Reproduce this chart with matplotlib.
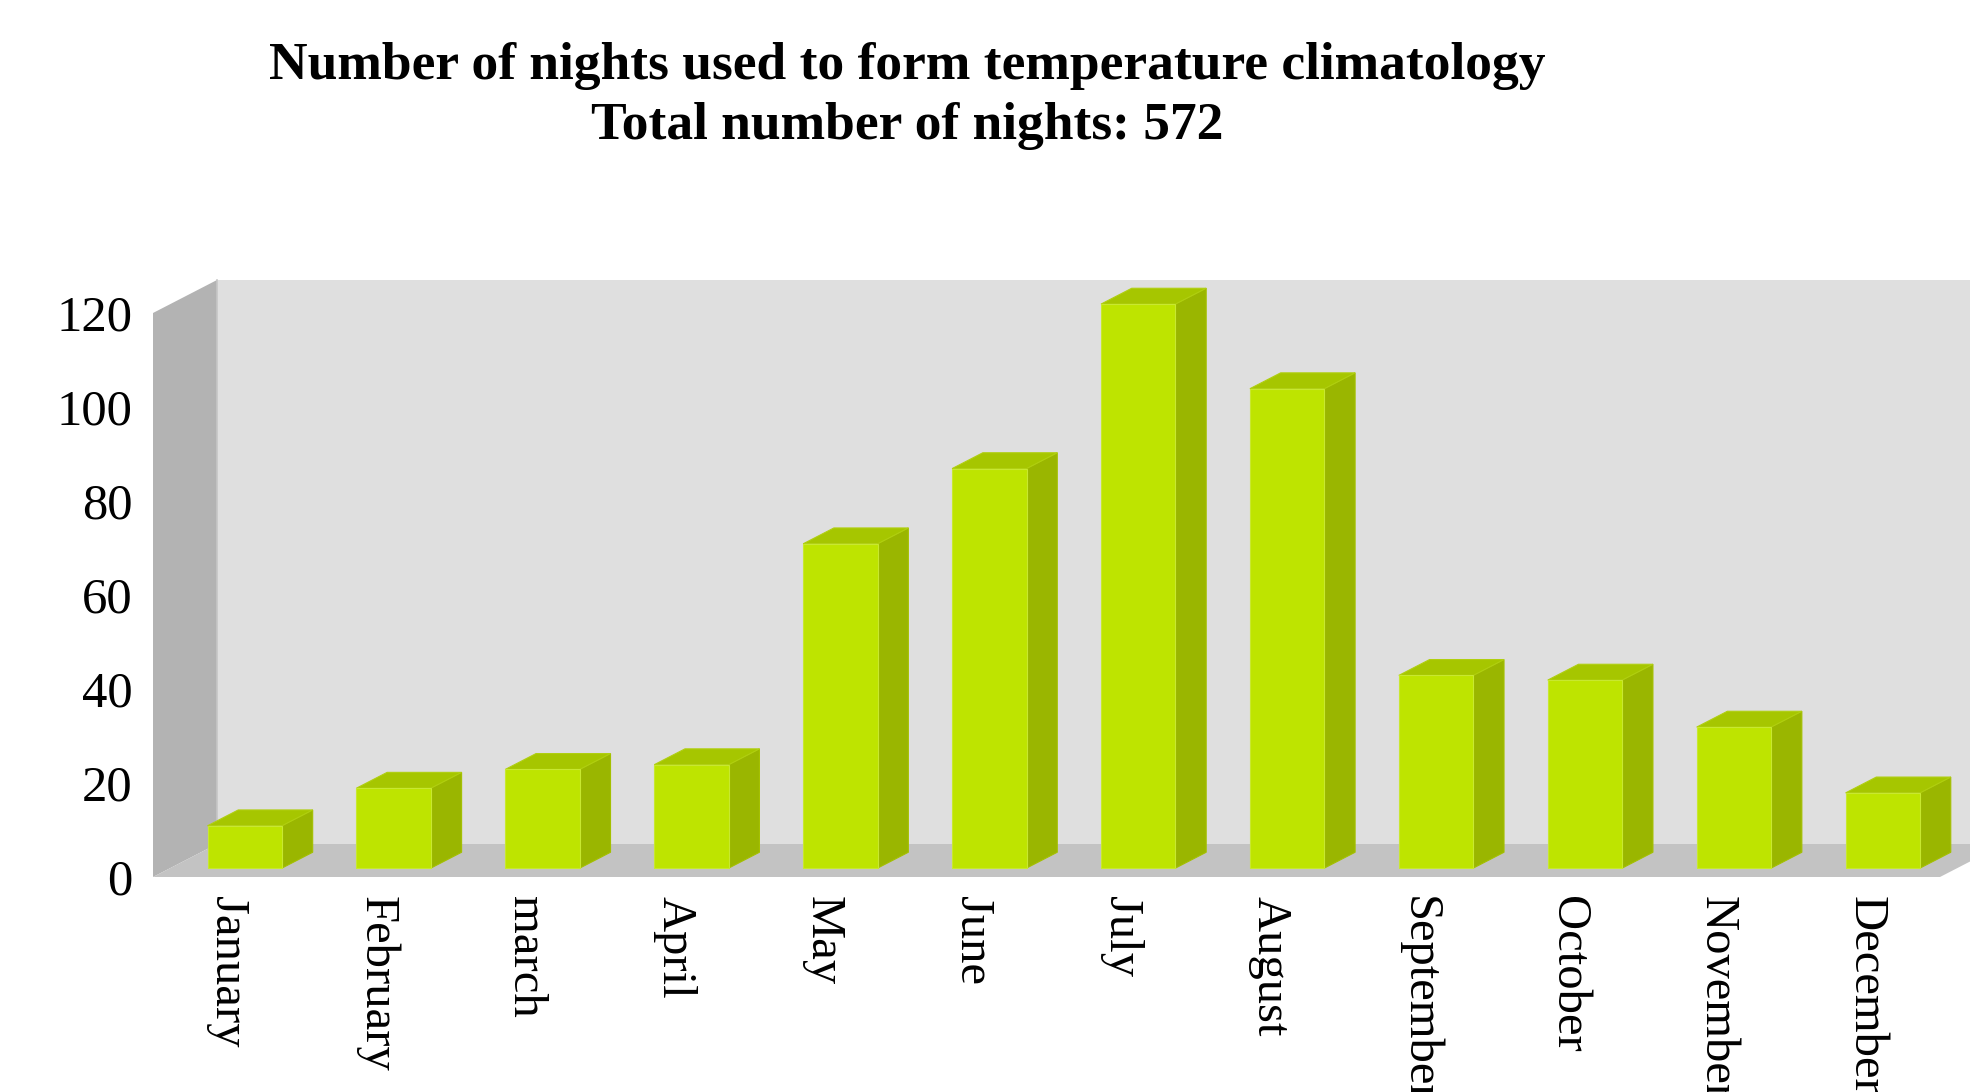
import numpy as np
import matplotlib

matplotlib.use("Agg")
import matplotlib.pyplot as plt
from matplotlib.patches import Polygon


# ------------------------------------------------------------
# Nights per month used for the temperature climatology
# ------------------------------------------------------------
months = [
    "January", "February", "march", "April", "May", "June",
    "July", "August", "September", "October", "November", "December",
]
nights = [9, 17, 21, 22, 69, 85, 120, 102, 41, 40, 30, 16]
y_ticks = [0, 20, 40, 60, 80, 100, 120]

title_line1 = "Number of nights used to form temperature climatology"
title_line2 = f"Total number of nights: {sum(nights)}"

# colours of the pseudo-3D box
WALL_BACK = "#dfdfdf"
WALL_LEFT = "#b3b3b3"
FLOOR = "#c3c3c3"
BAR_FRONT = "#bee400"
BAR_TOP = "#a6c600"
BAR_SIDE = "#9ab600"

plt.rcParams["font.family"] = ["Liberation Serif", "DejaVu Serif"]

W, H = 1970, 1092
fig = plt.figure(figsize=(W / 100, H / 100), dpi=100)

# front plane of the box in pixels
x0_px, x1_px = 153, 1940
y0_px, y1_px = 877, 313
ax = fig.add_axes([x0_px / W, 1 - y0_px / H, (x1_px - x0_px) / W, (y0_px - y1_px) / H])

n = len(months)
ymax = y_ticks[-1]
ax.set_xlim(0, n)
ax.set_ylim(0, ymax)

# depth vector of the box, converted from pixels into data units
px_per_x = (x1_px - x0_px) / n
px_per_y = (y0_px - y1_px) / ymax
depth = np.array([64 / px_per_x, 33 / px_per_y])


def face(pts, color, z, ec="none"):
    p = Polygon(np.asarray(pts), closed=True, facecolor=color, edgecolor=ec,
                linewidth=0.8, zorder=z, clip_on=False)
    ax.add_patch(p)


# walls and floor
back = np.array([[0, 0], [n, 0], [n, ymax], [0, ymax]]) + depth
face(back, WALL_BACK, 1)
face([[0, 0], [0, ymax], [0, ymax] + depth, [0, 0] + depth], WALL_LEFT, 2)
face([[0, 0], [n, 0], [n, 0] + depth, [0, 0] + depth], FLOOR, 2)
ax.plot([depth[0], depth[0]], [depth[1], ymax + depth[1]], color="#c6c6c6",
        linewidth=1.2, zorder=2.5, clip_on=False)

# bars: front face, top and right side
f = 0.27 * depth
b = 0.75 * depth
for i, v in enumerate(nights):
    xl, xr = i + 0.25, i + 0.75
    z = 3 + i * 0.01
    face([np.array([xr, 0]) + f, np.array([xr, v]) + f,
          np.array([xr, v]) + b, np.array([xr, 0]) + b], BAR_SIDE, z, ec="#a4c000")
    face([np.array([xl, v]) + f, np.array([xr, v]) + f,
          np.array([xr, v]) + b, np.array([xl, v]) + b], BAR_TOP, z, ec="#b0cf10")
    face([np.array([xl, 0]) + f, np.array([xr, 0]) + f,
          np.array([xr, v]) + f, np.array([xl, v]) + f], BAR_FRONT, z + 0.005, ec="#c8e830")

ax.set_yticks(y_ticks)
ax.set_yticklabels([str(t) for t in y_ticks], fontsize=36.5)
ax.set_xticks(np.arange(n) + 0.5)
ax.set_xticklabels(months, fontsize=35, rotation=270, va="top", ha="center")
ax.tick_params(axis="y", length=0, pad=15)
ax.tick_params(axis="x", length=0, pad=14)
for s in ax.spines.values():
    s.set_visible(False)
ax.patch.set_visible(False)

fig.text(907 / W, 1 - 79 / H, title_line1, ha="center", va="baseline",
         fontsize=38.5, fontweight="bold")
fig.text(907 / W, 1 - 139 / H, title_line2, ha="center", va="baseline",
         fontsize=38.5, fontweight="bold")

fig.savefig("out.png", dpi=100, facecolor="white")
